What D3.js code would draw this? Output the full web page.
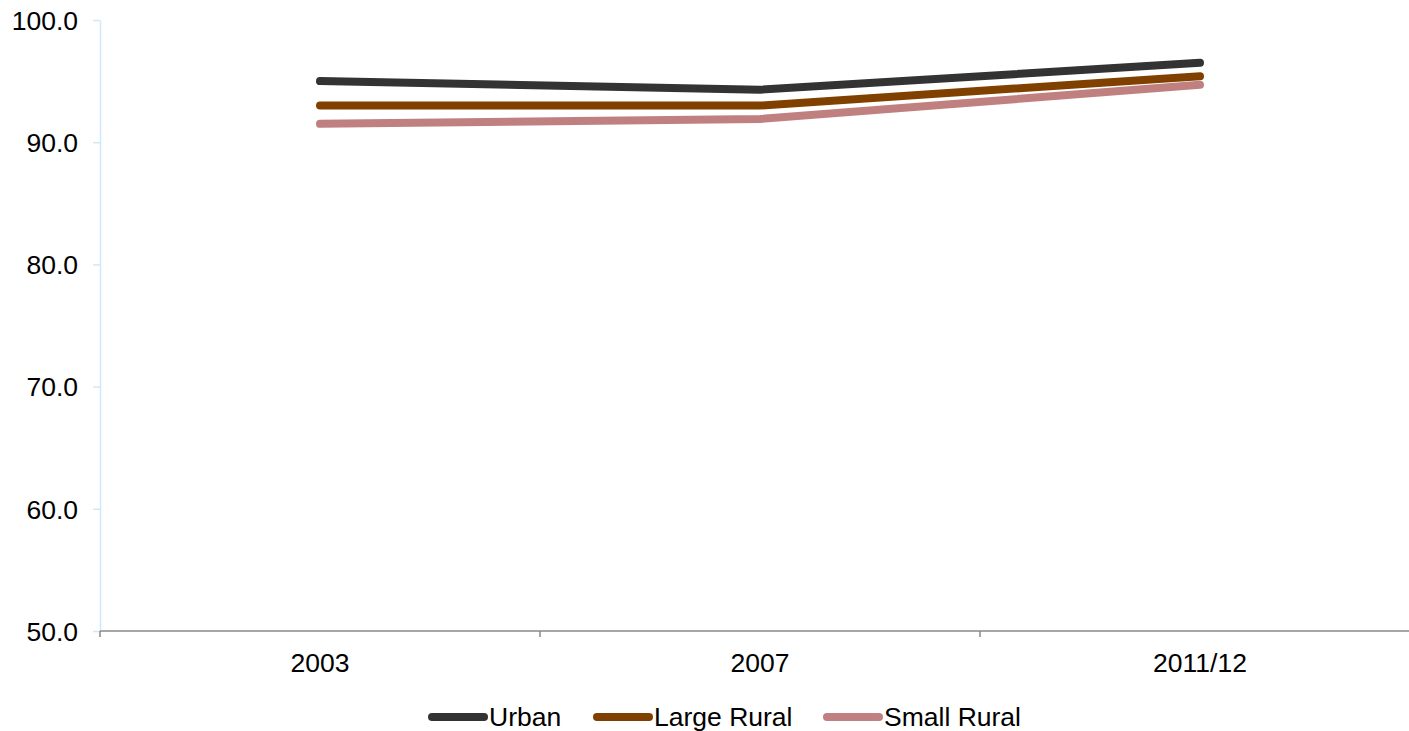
<!DOCTYPE html>
<html>
<head>
<meta charset="utf-8">
<script src="https://cdn.jsdelivr.net/npm/d3@7"></script>
<style>
  html, body { margin: 0; padding: 0; background: #fff; }
  svg { display: block; font-family: "Liberation Sans", Arial, sans-serif; }
</style>
</head>
<body>
<svg id="chart" width="1409" height="731"></svg>
<script>
// Survey rounds on the x axis
const categories = ["2003", "2007", "2011/12"];

// Series values by settlement type
const urban = [95.0, 94.3, 96.5];
const largeRural = [93.0, 93.0, 95.4];
const smallRural = [91.5, 91.9, 94.7];

const seriesNames = ["Urban", "Large Rural", "Small Rural"];
const seriesColors = ["#333333", "#804000", "#c08080"];

// Y axis ticks
const yTicks = [50, 60, 70, 80, 90, 100];

const series = [urban, largeRural, smallRural].map((values, i) => ({
  name: seriesNames[i],
  color: seriesColors[i],
  values
}));

const FONT = "26.5px";
const svg = d3.select("#chart");
const margin = { left: 100, right: -11, top: 20, bottom: 100 };
const width = 1409, height = 731;

const x = d3.scaleBand()
  .domain(categories)
  .range([margin.left, width - margin.right])
  .paddingInner(0).paddingOuter(0);

const y = d3.scaleLinear()
  .domain([50, 100])
  .range([height - margin.bottom, margin.top]);

// Y axis: light blue rule with short outside ticks
const yAxis = svg.append("g")
  .attr("transform", `translate(${margin.left},0)`)
  .call(d3.axisLeft(y).tickValues(yTicks).tickFormat(d3.format(".1f")).tickSize(7).tickSizeOuter(0));
yAxis.select(".domain").attr("stroke", "#cfe9fb").attr("stroke-width", 1.5);
yAxis.selectAll(".tick line").attr("stroke", "#cfe9fb").attr("stroke-width", 1.5);
yAxis.selectAll(".tick text")
  .attr("x", -22)
  .attr("dy", "0.35em")
  .attr("fill", "#000")
  .style("font-size", FONT);

// X axis: grey baseline with tick marks at band boundaries
const xAxisY = y(50);
const xg = svg.append("g");
xg.append("line")
  .attr("x1", margin.left).attr("x2", width)
  .attr("y1", xAxisY).attr("y2", xAxisY)
  .attr("stroke", "#888").attr("stroke-width", 1.5);
const bounds = categories.map(c => x(c)).concat([x(categories[categories.length - 1]) + x.bandwidth()]);
xg.selectAll("line.tk").data(bounds.filter(b => b <= width)).join("line")
  .attr("class", "tk")
  .attr("x1", d => d).attr("x2", d => d)
  .attr("y1", xAxisY).attr("y2", xAxisY + 6)
  .attr("stroke", "#888").attr("stroke-width", 1.5);
xg.selectAll("text").data(categories).join("text")
  .attr("x", d => x(d) + x.bandwidth() / 2)
  .attr("y", xAxisY + 41)
  .attr("text-anchor", "middle")
  .attr("fill", "#000")
  .style("font-size", FONT)
  .text(d => d);

// Lines
const line = d3.line()
  .x((d, i) => x(categories[i]) + x.bandwidth() / 2)
  .y(d => y(d));

svg.append("g").selectAll("path").data(series).join("path")
  .attr("d", d => line(d.values))
  .attr("fill", "none")
  .attr("stroke", d => d.color)
  .attr("stroke-width", 8)
  .attr("stroke-linecap", "round")
  .attr("stroke-linejoin", "round");

// Legend
const legendY = 717;
const legendX = [432, 597, 827];
const lg = svg.append("g");
series.forEach((s, i) => {
  const g = lg.append("g").attr("transform", `translate(${legendX[i]},${legendY})`);
  g.append("line")
    .attr("x1", 0).attr("x2", 52)
    .attr("y1", 0).attr("y2", 0)
    .attr("stroke", s.color).attr("stroke-width", 8)
    .attr("stroke-linecap", "round");
  g.append("text")
    .attr("x", 57).attr("y", 0)
    .attr("dy", "0.35em")
    .attr("fill", "#000")
    .style("font-size", FONT)
    .text(s.name);
});
</script>
</body>
</html>
